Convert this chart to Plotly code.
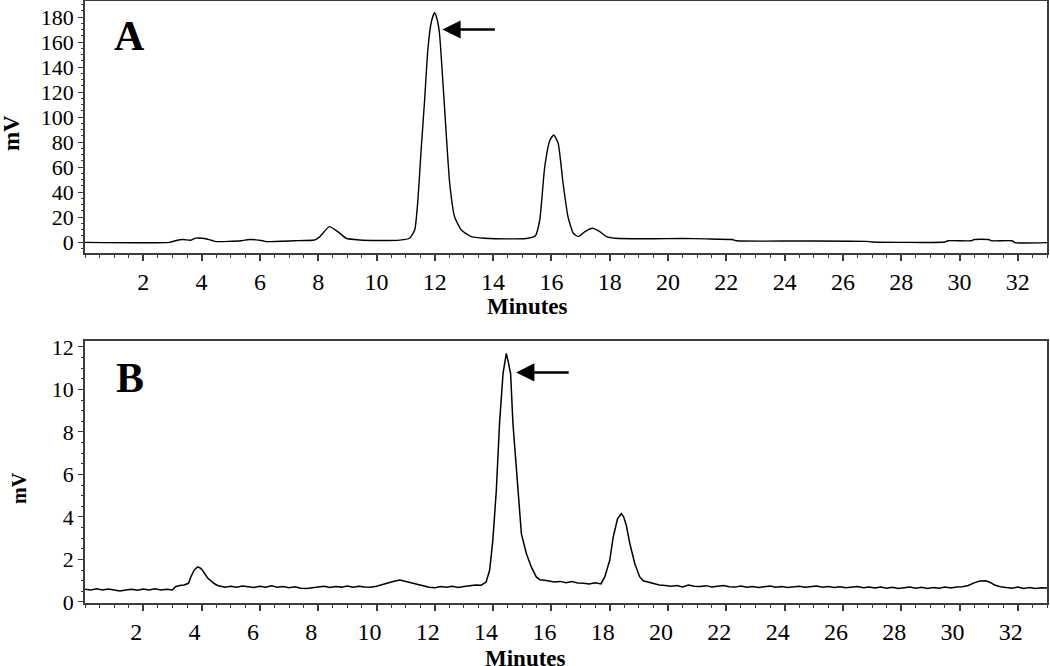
import plotly.graph_objects as go

# Panel A chromatogram (minutes, mV)
a_minutes = [0.0, 2.9, 3.1, 3.35, 3.63, 3.8, 4.15, 4.38, 4.5, 5.35, 5.64, 6.1, 6.2, 7.18, 7.87,
             8.02, 8.16, 8.38, 8.67, 8.96, 9.42, 10.0, 10.8, 11.13, 11.31, 11.42, 11.53, 11.65,
             11.76, 11.88, 11.99, 12.08, 12.16, 12.28, 12.39, 12.51, 12.68, 12.91, 13.25, 13.71,
             14.74, 15.2, 15.45, 15.6, 15.77, 15.95, 16.08, 16.23, 16.4, 16.57, 16.75, 16.92,
             17.15, 17.41, 17.66, 17.89, 18.18, 19.5, 20.5, 21.3, 22.2, 22.35, 24.5, 26.8, 27.0,
             29.5, 29.6, 30.4, 30.5, 31.0, 31.1, 31.8, 31.9, 33.0]
a_mv = [-0.3, -0.3, 1.0, 2.0, 1.4, 3.1, 2.6, 1.0, 0.3, 1.0, 2.0, 1.0, 0.3, 1.0, 1.6,
        3.5, 7.0, 12.3, 8.3, 3.0, 1.6, 1.2, 1.5, 3.0, 9.6, 33.6, 73.6, 113.6,
        153.6, 176.0, 183.4, 178.0, 167.0, 127.0, 87.0, 47.0, 20.0, 9.6, 4.3, 3.0,
        2.5, 3.0, 5.0, 17.6, 60.0, 81.6, 85.6, 79.0, 47.0, 20.0, 7.0, 4.3,
        8.3, 11.0, 8.3, 4.3, 3.0, 2.6, 2.8, 2.5, 2.0, 1.0, 0.8, 0.5, 0.0,
        0.0, 1.0, 1.0, 2.0, 2.0, 1.0, 1.0, -0.5, -0.5]

# Panel B chromatogram (noisier baseline)
b_minutes = [0.0, 0.2, 0.4, 0.6, 0.8, 1.0, 1.2, 1.4, 1.6, 1.8, 2.0, 2.2, 2.4, 2.6, 2.8, 3.0,
             3.1, 3.25, 3.4, 3.55, 3.63, 3.74, 3.86, 3.95, 4.03, 4.2, 4.32, 4.43, 4.55, 4.66,
             4.8, 5.0, 5.2, 5.4, 5.6, 5.8, 6.0, 6.2, 6.4, 6.6, 6.8, 7.0, 7.2, 7.4, 7.6, 7.8,
             8.0, 8.2, 8.4, 8.6, 8.8, 9.0, 9.2, 9.4, 9.6,
             9.8, 10.0, 10.2, 10.4, 10.6, 10.8, 11.0, 11.2, 11.4, 11.6, 11.8, 12.0, 12.2, 12.4,
             12.6, 12.8, 13.0, 13.2, 13.4, 13.59, 13.76, 13.88, 13.99, 14.11, 14.22, 14.34,
             14.45, 14.52, 14.6, 14.68, 14.85, 14.97, 15.14, 15.31, 15.48, 15.6, 15.77, 15.95,
             16.1, 16.3, 16.5, 16.7, 16.9, 17.1, 17.3, 17.5, 17.7, 17.83, 18.0, 18.12, 18.27,
             18.4, 18.48, 18.57, 18.69, 18.86, 19.03, 19.15, 19.32, 19.5, 19.7, 19.9, 20.1,
             20.3, 20.5, 20.7, 20.9, 21.1,
             21.3, 21.5, 21.7, 21.9, 22.1, 22.3, 22.5, 22.7, 22.9, 23.1, 23.3, 23.5, 23.7,
             23.9, 24.1, 24.3, 24.5, 24.7, 24.9, 25.1, 25.3, 25.5, 25.7, 25.9, 26.1, 26.3,
             26.5, 26.7, 26.9, 27.1, 27.3, 27.5, 27.7, 27.9, 28.1, 28.3, 28.5, 28.7, 28.9,
             29.1, 29.3, 29.5, 29.7, 29.9, 30.1,
             30.3, 30.5, 30.7, 30.9, 31.05, 31.2, 31.4, 31.6, 31.8, 32.0, 32.2, 32.4, 32.6,
             32.8, 33.0, 33.1]
b_mv = [0.60, 0.56, 0.62, 0.57, 0.61, 0.55, 0.52, 0.57, 0.60, 0.55, 0.61, 0.57, 0.62, 0.56, 0.60, 0.57,
        0.72, 0.78, 0.80, 0.88, 1.18, 1.49, 1.65, 1.60, 1.49, 1.14, 0.98, 0.87, 0.78, 0.74,
        0.70, 0.74, 0.69, 0.75, 0.71, 0.68, 0.74, 0.70, 0.76, 0.69, 0.73, 0.67, 0.72, 0.65, 0.63, 0.67,
        0.70, 0.74, 0.68, 0.73, 0.70, 0.75, 0.69, 0.74, 0.71,
        0.69, 0.74, 0.82, 0.92, 0.98, 1.03, 0.97, 0.90, 0.82, 0.76, 0.69, 0.67, 0.73, 0.69,
        0.74, 0.68, 0.73, 0.78, 0.80, 0.79, 0.94, 1.49, 2.90, 5.26, 8.40, 10.75,
        11.69, 11.30, 10.75, 8.40, 5.26, 3.20, 2.28, 1.65, 1.18, 1.05, 1.02, 0.97,
        0.94, 0.97, 0.91, 0.96, 0.89, 0.88, 0.85, 0.90, 0.85, 1.18, 1.96, 3.06, 3.92,
        4.16, 4.00, 3.60, 2.75, 1.80, 1.18, 1.00, 0.94, 0.86, 0.80, 0.78, 0.74,
        0.78, 0.71, 0.80, 0.74, 0.73,
        0.77, 0.71, 0.75, 0.78, 0.72, 0.70, 0.75, 0.69, 0.73, 0.68, 0.72, 0.75, 0.69,
        0.73, 0.68, 0.72, 0.74, 0.69, 0.73, 0.75, 0.69, 0.73, 0.68, 0.72, 0.67, 0.71,
        0.73, 0.67, 0.71, 0.66, 0.70, 0.65, 0.69, 0.64, 0.68, 0.71, 0.65, 0.69, 0.64,
        0.68, 0.65, 0.70, 0.66, 0.71, 0.72,
        0.78, 0.90, 0.99, 1.00, 0.92, 0.80, 0.72, 0.68, 0.65, 0.70, 0.64, 0.68, 0.63,
        0.67, 0.64, 0.66]

x_ticks = list(range(2, 33, 2))
a_y_ticks = list(range(0, 181, 20))
b_y_ticks = list(range(0, 13, 2))

serif = 'Liberation Serif'
frame = '#3c3c3c'

fig = go.Figure()
fig.add_trace(go.Scatter(
    x=a_minutes, y=a_mv, mode='lines', xaxis='x', yaxis='y',
    line=dict(color='black', width=1.4, shape='spline', smoothing=0.5),
    hoverinfo='x+y'
))
fig.add_trace(go.Scatter(
    x=b_minutes, y=b_mv, mode='lines', xaxis='x2', yaxis='y2',
    line=dict(color='black', width=1.5),
    hoverinfo='x+y'
))

xaxis_style = dict(
    range=[0, 33], tickvals=x_ticks, ticks='outside', ticklen=6, tickwidth=1.6,
    tickcolor=frame, showline=True, linecolor=frame, linewidth=1.6, mirror=True,
    showgrid=False, zeroline=False, automargin=False,
    tickfont=dict(family=serif, size=24, color='black'),
    minor=dict(dtick=0.5, tick0=0, ticks='outside', ticklen=3, tickwidth=1.3, tickcolor=frame)
)
yaxis_style = dict(
    ticks='outside', ticklen=5, tickwidth=1.4, tickcolor=frame, showline=True,
    linecolor=frame, linewidth=1.6, mirror=True, showgrid=False, zeroline=False,
    automargin=False, tickfont=dict(family=serif, size=22, color='black')
)

fig.update_layout(
    width=1050, height=666,
    margin=dict(l=85, r=3, t=1, b=63, autoexpand=False),
    plot_bgcolor='white', paper_bgcolor='white',
    showlegend=False,
    font=dict(family=serif, color='black'),
    xaxis=dict(domain=[0, 1], anchor='y', **xaxis_style),
    yaxis=dict(domain=[0.5814, 1.0], anchor='x', range=[-8.8, 192.8], tickvals=a_y_ticks,
               minor=dict(dtick=5, ticks='outside', ticklen=2, tickwidth=1.2, tickcolor=frame),
               **yaxis_style),
    xaxis2=dict(domain=[0, 1], anchor='y2', ticklabelshift=-7, **xaxis_style),
    yaxis2=dict(domain=[0, 0.4352], anchor='x2', range=[-0.047, 12.28], tickvals=b_y_ticks,
                minor=dict(dtick=0.5, ticks='outside', ticklen=2, tickwidth=1.2, tickcolor=frame),
                **yaxis_style),
)

bold_font = dict(family=serif, color='black')
notes = [
    dict(text='<b>A</b>', xref='x', yref='y', x=1.51, y=165, size=42),
    dict(text='<b>B</b>', xref='x2', yref='y2', x=1.53, y=10.56, size=42),
    dict(text='<b>Minutes</b>', xref='paper', yref='paper', x=0.4595, y=0.4917, size=23),
    dict(text='<b>Minutes</b>', xref='paper', yref='paper', x=0.4574, y=-0.093, size=23),
]
for n in notes:
    fig.add_annotation(text=n['text'], xref=n['xref'], yref=n['yref'], x=n['x'], y=n['y'],
                       showarrow=False, xanchor='center', yanchor='middle',
                       font=dict(size=n['size'], **bold_font))

fig.add_annotation(text='<b>mV</b>', xref='paper', yref='paper', x=-0.0769, y=0.7807,
                   textangle=-90, showarrow=False, xanchor='center', yanchor='middle',
                   font=dict(size=23, **bold_font))
fig.add_annotation(text='<b>mV</b>', xref='paper', yref='paper', x=-0.0686, y=0.191,
                   textangle=-90, showarrow=False, xanchor='center', yanchor='middle',
                   font=dict(size=20, **bold_font))

# arrows pointing at the peak of interest
fig.add_annotation(x=12.26, y=170, xref='x', yref='y', ax=54, ay=0, text='',
                   showarrow=True, arrowhead=2, arrowsize=1.4, arrowwidth=2.6, arrowcolor='black')
fig.add_annotation(x=14.79, y=10.8, xref='x2', yref='y2', ax=54, ay=0, text='',
                   showarrow=True, arrowhead=2, arrowsize=1.4, arrowwidth=2.6, arrowcolor='black')

# the page's default body margin would shift the 1050x666 figure; drop it
fig.write_html("out.html", config={'displayModeBar': False},
               post_script="document.body.style.margin='0';")
